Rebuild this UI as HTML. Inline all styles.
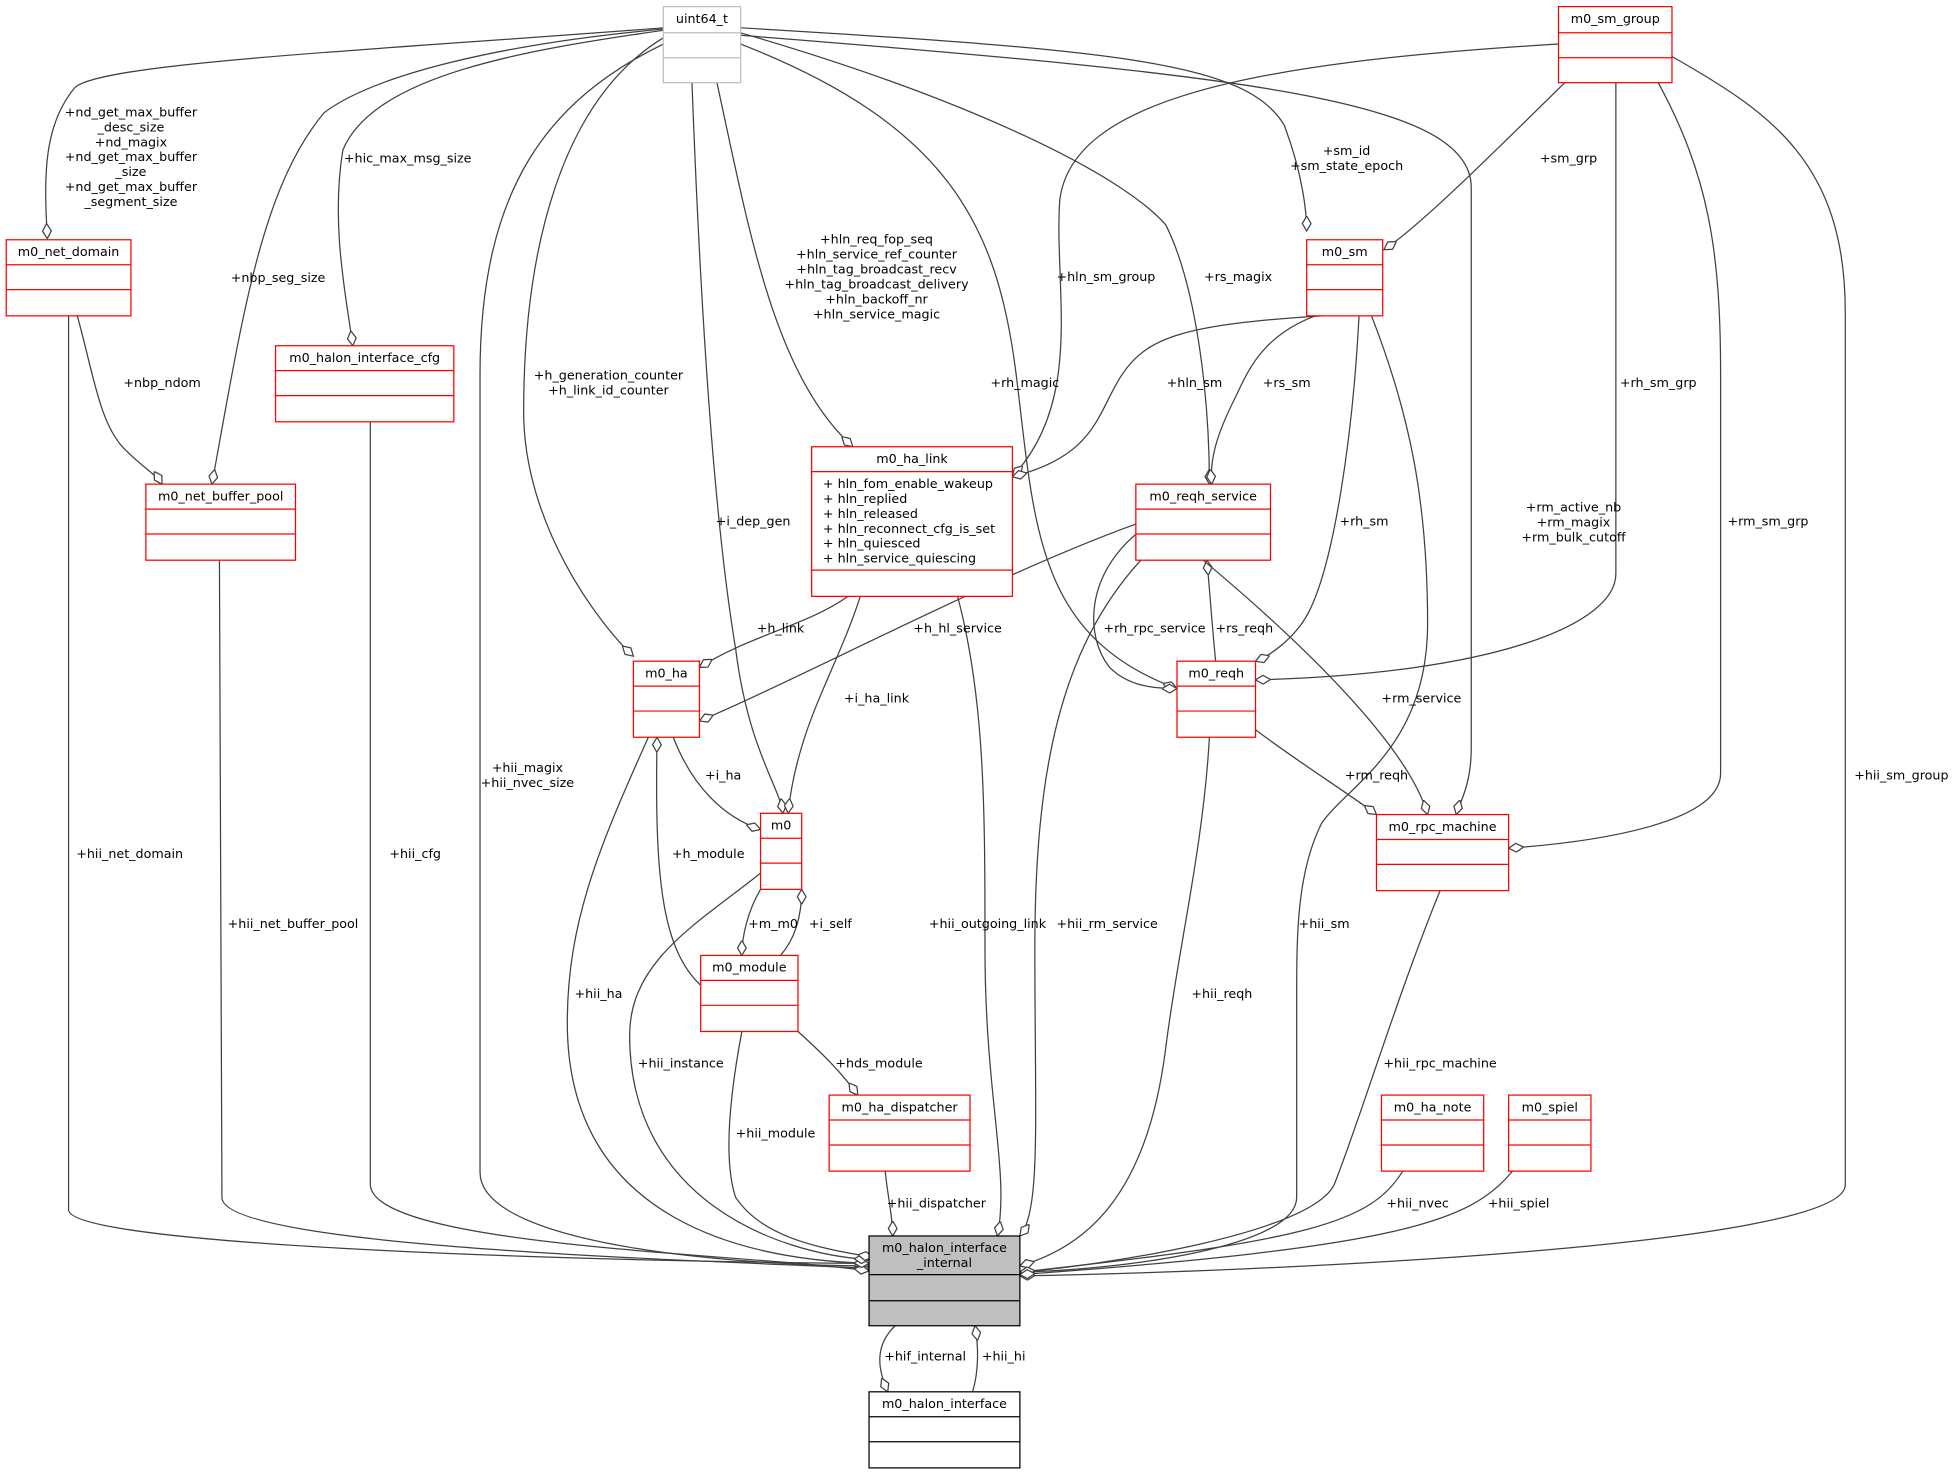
<!DOCTYPE html>
<html><head><meta charset="utf-8"><style>
html,body{margin:0;padding:0;background:#fff;}
svg{display:block;}
text{font-family:"DejaVu Sans","Liberation Sans",sans-serif;font-size:10.2px;fill:#000;}
.e{fill:none;stroke:#404040;stroke-width:1;}
.n{fill:#fff;stroke:#ff0000;stroke-width:1;}
.g{fill:#fff;stroke:#bfbfbf;stroke-width:1;}
</style></head><body>
<svg width="1955" height="1472" viewBox="0 0 1568 1180" xmlns="http://www.w3.org/2000/svg">
<defs>
<marker id="d" markerWidth="14" markerHeight="8" refX="12" refY="4" orient="auto" markerUnits="userSpaceOnUse">
<path d="M0,4 L6,0.5 L12,4 L6,7.5 Z" fill="#fff" stroke="#404040" stroke-width="1"/>
</marker>
</defs>

<g class="e">
<path d="M532,22 C300,40 80,50 60,70 C35,100 35,140 38,191" marker-end="url(#d)"/>
<path d="M532,23 C400,35 300,60 260,90 C210,150 195,250 170,388" marker-end="url(#d)"/>
<path d="M532,24 C420,40 300,60 275,120 C265,180 278,240 283,277" marker-end="url(#d)"/>
<path d="M532,30 C450,80 420,200 420,330 C420,420 480,500 508,526" marker-end="url(#d)"/>
<path d="M555,66 C560,200 570,400 590,520 C600,600 625,630 628,652" marker-end="url(#d)"/>
<path d="M575,66 C600,180 620,300 684,358" marker-end="url(#d)"/>
<path d="M532,35 C440,80 385,150 385,300 L385,940 C385,1000 600,1015 697,1015" marker-end="url(#d)"/>
<path d="M594,26 C780,80 900,140 935,180 C960,230 970,320 970,388" marker-end="url(#d)"/>
<path d="M594,35 C760,100 800,180 815,300 C830,420 830,510 944,552" marker-end="url(#d)"/>
<path d="M594,22 C900,40 1000,50 1030,100 C1045,140 1048,170 1048,185" marker-end="url(#d)"/>
<path d="M594,28 C1000,60 1180,80 1180,150 L1180,600 C1180,630 1170,645 1168,653" marker-end="url(#d)"/>
<path d="M1255,66 C1200,120 1140,180 1110,200" marker-end="url(#d)"/>
<path d="M1250,35 C1000,50 860,80 850,160 C845,230 870,320 812,382" marker-end="url(#d)"/>
<path d="M1296,66 C1296,200 1296,440 1296,460 C1296,500 1200,540 1007,545" marker-end="url(#d)"/>
<path d="M1330,66 C1370,140 1380,200 1380,300 L1380,620 C1380,660 1280,675 1210,680" marker-end="url(#d)"/>
<path d="M1341,45 C1420,90 1480,130 1480,250 L1480,950 C1480,1000 1000,1020 818,1023" marker-end="url(#d)"/>
<path d="M1060,253 C950,260 920,270 900,300 C880,330 880,365 812,382" marker-end="url(#d)"/>
<path d="M1055,253 C1010,270 1000,300 990,320 C975,350 970,370 972,388" marker-end="url(#d)"/>
<path d="M1090,253 C1085,350 1070,450 1050,490 C1040,510 1020,525 1007,530" marker-end="url(#d)"/>
<path d="M1100,253 C1130,330 1145,400 1145,500 C1145,600 1080,630 1060,660 C1040,700 1040,750 1040,800 L1040,960 C1040,1000 900,1018 818,1020" marker-end="url(#d)"/>
<path d="M62,253 C75,300 80,340 100,360 C115,375 125,380 130,388" marker-end="url(#d)"/>
<path d="M55,253 L55,970 C55,1000 500,1012 697,1013" marker-end="url(#d)"/>
<path d="M176,449 L178,960 C178,1000 550,1010 697,1017" marker-end="url(#d)"/>
<path d="M297,338 L297,950 C300,1000 600,1005 697,1019" marker-end="url(#d)"/>
<path d="M680,478 C650,500 600,510 561,535" marker-end="url(#d)"/>
<path d="M690,478 C670,540 640,580 632,652" marker-end="url(#d)"/>
<path d="M768,478 C790,560 790,650 790,760 C790,880 810,940 800,991" marker-end="url(#d)"/>
<path d="M911,420 C800,460 650,540 561,578" marker-end="url(#d)"/>
<path d="M975,530 C972,500 970,470 968,449" marker-end="url(#d)"/>
<path d="M915,425 C870,460 870,510 890,535 C905,550 925,552 944,552" marker-end="url(#d)"/>
<path d="M915,449 C850,520 830,620 830,760 C830,900 835,970 818,991" marker-end="url(#d)"/>
<path d="M965,449 C1050,520 1130,600 1145,653" marker-end="url(#d)"/>
<path d="M1007,585 C1040,610 1080,635 1104,653" marker-end="url(#d)"/>
<path d="M970,591 C965,680 945,760 935,840 C920,960 870,1000 818,1015" marker-end="url(#d)"/>
<path d="M1155,714 C1120,800 1090,900 1070,950 C1050,990 880,1015 818,1020" marker-end="url(#d)"/>
<path d="M540,591 C555,630 580,655 610,665" marker-end="url(#d)"/>
<path d="M562,790 C530,760 525,700 527,591" marker-end="url(#d)"/>
<path d="M610,713 C600,730 595,750 595,766" marker-end="url(#d)"/>
<path d="M626,766 C640,750 643,730 643,713" marker-end="url(#d)"/>
<path d="M520,591 C480,680 455,740 455,820 C455,980 600,1010 697,1013" marker-end="url(#d)"/>
<path d="M610,700 C560,740 505,770 505,830 C505,960 620,1005 697,1010" marker-end="url(#d)"/>
<path d="M595,827 C585,880 580,930 590,960 C610,990 650,1000 700,1008" marker-end="url(#d)"/>
<path d="M640,827 C660,845 675,860 688,878" marker-end="url(#d)"/>
<path d="M710,939 C712,960 716,975 716,991" marker-end="url(#d)"/>
<path d="M1125,939 C1100,980 1050,995 818,1020" marker-end="url(#d)"/>
<path d="M1213,939 C1180,980 1120,1000 818,1022" marker-end="url(#d)"/>
<path d="M718,1063 C700,1080 705,1100 712,1116" marker-end="url(#d)"/>
<path d="M780,1116 C785,1100 785,1080 782,1063" marker-end="url(#d)"/>
</g>

<g>
<rect class="g" x="532" y="5" width="62" height="61"/><line class="g" x1="532" y1="26" x2="594" y2="26"/><line class="g" x1="532" y1="46" x2="594" y2="46"/>
<text x="563" y="18" text-anchor="middle">uint64_t</text>

<rect class="n" x="1250" y="5" width="91" height="61"/><line class="n" x1="1250" y1="26" x2="1341" y2="26"/><line class="n" x1="1250" y1="46" x2="1341" y2="46"/>
<text x="1295.5" y="18" text-anchor="middle">m0_sm_group</text>

<rect class="n" x="5" y="192" width="100" height="61"/><line class="n" x1="5" y1="212" x2="105" y2="212"/><line class="n" x1="5" y1="232" x2="105" y2="232"/>
<text x="55" y="205" text-anchor="middle">m0_net_domain</text>

<rect class="n" x="1048" y="192" width="61" height="61"/><line class="n" x1="1048" y1="212" x2="1109" y2="212"/><line class="n" x1="1048" y1="232" x2="1109" y2="232"/>
<text x="1078.5" y="205" text-anchor="middle">m0_sm</text>

<rect class="n" x="221" y="277" width="143" height="61"/><line class="n" x1="221" y1="297" x2="364" y2="297"/><line class="n" x1="221" y1="317" x2="364" y2="317"/>
<text x="292.5" y="290" text-anchor="middle">m0_halon_interface_cfg</text>

<rect class="n" x="117" y="388" width="120" height="61"/><line class="n" x1="117" y1="408" x2="237" y2="408"/><line class="n" x1="117" y1="428" x2="237" y2="428"/>
<text x="177" y="401" text-anchor="middle">m0_net_buffer_pool</text>

<rect class="n" x="651" y="358" width="161" height="120"/><line class="n" x1="651" y1="378" x2="812" y2="378"/><line class="n" x1="651" y1="457" x2="812" y2="457"/>
<text x="731.5" y="371" text-anchor="middle">m0_ha_link</text>
<text x="660" y="391">+ hln_fom_enable_wakeup</text>
<text x="660" y="403">+ hln_replied</text>
<text x="660" y="415">+ hln_released</text>
<text x="660" y="427">+ hln_reconnect_cfg_is_set</text>
<text x="660" y="439">+ hln_quiesced</text>
<text x="660" y="451">+ hln_service_quiescing</text>

<rect class="n" x="911" y="388" width="108" height="61"/><line class="n" x1="911" y1="408" x2="1019" y2="408"/><line class="n" x1="911" y1="428" x2="1019" y2="428"/>
<text x="965" y="401" text-anchor="middle">m0_reqh_service</text>

<rect class="n" x="508" y="530" width="53" height="61"/><line class="n" x1="508" y1="550" x2="561" y2="550"/><line class="n" x1="508" y1="570" x2="561" y2="570"/>
<text x="534.5" y="543" text-anchor="middle">m0_ha</text>

<rect class="n" x="944" y="530" width="63" height="61"/><line class="n" x1="944" y1="550" x2="1007" y2="550"/><line class="n" x1="944" y1="570" x2="1007" y2="570"/>
<text x="975.5" y="543" text-anchor="middle">m0_reqh</text>

<rect class="n" x="610" y="652" width="33" height="61"/><line class="n" x1="610" y1="672" x2="643" y2="672"/><line class="n" x1="610" y1="692" x2="643" y2="692"/>
<text x="626.5" y="665" text-anchor="middle">m0</text>

<rect class="n" x="1104" y="653" width="106" height="61"/><line class="n" x1="1104" y1="673" x2="1210" y2="673"/><line class="n" x1="1104" y1="693" x2="1210" y2="693"/>
<text x="1157" y="666" text-anchor="middle">m0_rpc_machine</text>

<rect class="n" x="562" y="766" width="78" height="61"/><line class="n" x1="562" y1="786" x2="640" y2="786"/><line class="n" x1="562" y1="806" x2="640" y2="806"/>
<text x="601" y="779" text-anchor="middle">m0_module</text>

<rect class="n" x="665" y="878" width="113" height="61"/><line class="n" x1="665" y1="898" x2="778" y2="898"/><line class="n" x1="665" y1="918" x2="778" y2="918"/>
<text x="721.5" y="891" text-anchor="middle">m0_ha_dispatcher</text>

<rect class="n" x="1108" y="878" width="82" height="61"/><line class="n" x1="1108" y1="898" x2="1190" y2="898"/><line class="n" x1="1108" y1="918" x2="1190" y2="918"/>
<text x="1149" y="891" text-anchor="middle">m0_ha_note</text>

<rect class="n" x="1210" y="878" width="66" height="61"/><line class="n" x1="1210" y1="898" x2="1276" y2="898"/><line class="n" x1="1210" y1="918" x2="1276" y2="918"/>
<text x="1243" y="891" text-anchor="middle">m0_spiel</text>

<rect x="697" y="991" width="121" height="72" fill="#bfbfbf" stroke="#000"/><line x1="697" y1="1022" x2="818" y2="1022" stroke="#000"/><line x1="697" y1="1043" x2="818" y2="1043" stroke="#000"/>
<text x="757.5" y="1004" text-anchor="middle">m0_halon_interface</text>
<text x="757.5" y="1016" text-anchor="middle">_internal</text>

<rect x="697" y="1116" width="121" height="61" fill="#fff" stroke="#000"/><line x1="697" y1="1136" x2="818" y2="1136" stroke="#000"/><line x1="697" y1="1156" x2="818" y2="1156" stroke="#000"/>
<text x="757.5" y="1129" text-anchor="middle">m0_halon_interface</text>
</g>

<g text-anchor="middle">
<text x="105" y="93">+nd_get_max_buffer</text>
<text x="105" y="105">_desc_size</text>
<text x="105" y="117">+nd_magix</text>
<text x="105" y="129">+nd_get_max_buffer</text>
<text x="105" y="141">_size</text>
<text x="105" y="153">+nd_get_max_buffer</text>
<text x="105" y="165">_segment_size</text>
<text x="327" y="130">+hic_max_msg_size</text>
<text x="223" y="226">+nbp_seg_size</text>
<text x="130" y="310">+nbp_ndom</text>
<text x="488" y="304">+h_generation_counter</text>
<text x="488" y="316">+h_link_id_counter</text>
<text x="703" y="195">+hln_req_fop_seq</text>
<text x="703" y="207">+hln_service_ref_counter</text>
<text x="703" y="219">+hln_tag_broadcast_recv</text>
<text x="703" y="231">+hln_tag_broadcast_delivery</text>
<text x="703" y="243">+hln_backoff_nr</text>
<text x="703" y="255">+hln_service_magic</text>
<text x="604" y="421">+i_dep_gen</text>
<text x="1080" y="124">+sm_id</text>
<text x="1080" y="136">+sm_state_epoch</text>
<text x="1258" y="130">+sm_grp</text>
<text x="887" y="225">+hln_sm_group</text>
<text x="993" y="225">+rs_magix</text>
<text x="822" y="310">+rh_magic</text>
<text x="958" y="310">+hln_sm</text>
<text x="1032" y="310">+rs_sm</text>
<text x="1330" y="310">+rh_sm_grp</text>
<text x="1094" y="421">+rh_sm</text>
<text x="1262" y="410">+rm_active_nb</text>
<text x="1262" y="422">+rm_magix</text>
<text x="1262" y="434">+rm_bulk_cutoff</text>
<text x="1418" y="421">+rm_sm_grp</text>
<text x="626" y="507">+h_link</text>
<text x="768" y="507">+h_hl_service</text>
<text x="926" y="507">+rh_rpc_service</text>
<text x="998" y="507">+rs_reqh</text>
<text x="703" y="563">+i_ha_link</text>
<text x="1140" y="563">+rm_service</text>
<text x="580" y="625">+i_ha</text>
<text x="1104" y="625">+rm_reqh</text>
<text x="423" y="619">+hii_magix</text>
<text x="423" y="631">+hii_nvec_size</text>
<text x="104" y="688">+hii_net_domain</text>
<text x="333" y="688">+hii_cfg</text>
<text x="568" y="688">+h_module</text>
<text x="1525" y="625">+hii_sm_group</text>
<text x="235" y="744">+hii_net_buffer_pool</text>
<text x="620" y="744">+m_m0</text>
<text x="666" y="744">+i_self</text>
<text x="792" y="744">+hii_outgoing_link</text>
<text x="888" y="744">+hii_rm_service</text>
<text x="1062" y="744">+hii_sm</text>
<text x="480" y="800">+hii_ha</text>
<text x="980" y="800">+hii_reqh</text>
<text x="546" y="856">+hii_instance</text>
<text x="705" y="856">+hds_module</text>
<text x="1155" y="856">+hii_rpc_machine</text>
<text x="622" y="912">+hii_module</text>
<text x="751" y="968">+hii_dispatcher</text>
<text x="1137" y="968">+hii_nvec</text>
<text x="1218" y="968">+hii_spiel</text>
<text x="742" y="1091">+hif_internal</text>
<text x="805" y="1091">+hii_hi</text>
</g>
</svg>
</body></html>
